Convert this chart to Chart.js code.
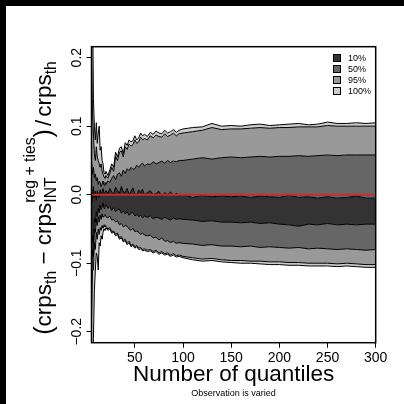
<!DOCTYPE html>
<html>
<head>
<meta charset="utf-8">
<script src="https://cdn.jsdelivr.net/npm/chart.js@4"></script>
<style>
  html, body { margin: 0; padding: 0; background: #000; width: 404px; height: 404px; overflow: hidden; }
  #wrap { position: absolute; left: 6px; top: 6px; width: 398px; height: 398px; background: #fff; }
</style>
</head>
<body>
<div id="wrap"><canvas id="fan" width="398" height="398"></canvas></div>
<script>
// number of quantiles (x)
const quantiles = [5,6,7,8,9,10,11,12,13,14,15,16,17,18,19,20,
  22,24,26,28,30,32,34,36,38,40,42,44,46,48,50,52,54,56,58,60,
  63,66,69,72,75,78,81,84,87,90,93,96,
  100,110,120,130,140,150,160,170,180,190,200,210,220,230,240,250,260,270,280,290,300];

// band edges, top to bottom
const upper100 = [0.45,0.30,0.14,0.10,0.08,0.105,0.075,0.09,0.10,0.065,0.07,0.05,0.045,0.032,0.03,0.034,
  0.028,0.036,0.045,0.04,0.062,0.055,0.068,0.07,0.06,0.076,0.072,0.08,0.077,0.079,0.086,0.08,0.083,0.09,0.086,0.088,
  0.085,0.091,0.088,0.093,0.09,0.089,0.094,0.09,0.092,0.095,0.091,0.094,
  0.096,0.098,0.099,0.104,0.1,0.101,0.1,0.102,0.103,0.101,0.102,0.103,0.104,0.102,0.103,0.106,0.104,0.104,0.105,0.104,0.105];
const upper95 = [0.20,0.12,0.09,0.06,0.05,0.07,0.055,0.05,0.045,0.04,0.045,0.035,0.03,0.026,0.024,0.028,
  0.024,0.031,0.04,0.034,0.056,0.05,0.062,0.064,0.055,0.07,0.066,0.074,0.071,0.073,0.08,0.075,0.077,0.084,0.08,0.082,
  0.08,0.086,0.083,0.087,0.085,0.084,0.089,0.085,0.087,0.09,0.086,0.089,
  0.09,0.092,0.094,0.098,0.095,0.096,0.096,0.097,0.098,0.097,0.098,0.098,0.099,0.099,0.099,0.101,0.1,0.1,0.1,0.1,0.1];
const upper50 = [0.05,0.03,0.04,0.025,0.03,0.02,0.025,0.015,0.02,0.018,0.012,0.016,0.02,0.014,0.018,0.015,
  0.02,0.018,0.024,0.028,0.022,0.03,0.032,0.027,0.036,0.031,0.038,0.035,0.04,0.037,0.038,0.043,0.04,0.044,0.046,0.042,
  0.045,0.044,0.048,0.045,0.047,0.049,0.046,0.05,0.047,0.049,0.048,0.05,
  0.05,0.052,0.054,0.052,0.054,0.055,0.054,0.055,0.056,0.055,0.056,0.056,0.057,0.056,0.057,0.058,0.057,0.058,0.058,0.058,0.058];
const upper10 = [0.01,-0.01,0.012,-0.004,0.005,-0.008,0.006,0.002,-0.004,0.007,0.0,0.004,0.009,0.001,0.003,0.006,
  0.002,0.009,0.004,0.001,0.011,0.006,0.002,0.012,0.004,0.003,0.009,0.001,0.005,0.01,0.002,0.0,0.007,0.003,0.008,0.0,
  0.003,0.006,0.0,0.002,0.005,-0.002,0.003,0.0,0.004,-0.001,0.002,-0.001,
  0.0,-0.004,-0.001,-0.003,-0.002,-0.003,-0.002,-0.004,-0.002,-0.003,-0.004,-0.001,-0.004,-0.003,-0.005,-0.003,-0.005,-0.004,-0.002,-0.005,-0.005];
const lower10 = [-0.10,-0.06,-0.07,-0.035,-0.04,-0.025,-0.032,-0.02,-0.026,-0.015,-0.022,-0.018,-0.012,-0.02,-0.017,-0.015,
  -0.02,-0.017,-0.023,-0.019,-0.025,-0.022,-0.021,-0.027,-0.024,-0.028,-0.025,-0.03,-0.027,-0.026,-0.031,-0.029,-0.032,-0.03,-0.034,-0.031,
  -0.033,-0.031,-0.035,-0.033,-0.034,-0.036,-0.033,-0.035,-0.037,-0.034,-0.036,-0.035,
  -0.036,-0.037,-0.039,-0.038,-0.04,-0.04,-0.041,-0.04,-0.042,-0.041,-0.043,-0.044,-0.046,-0.043,-0.044,-0.042,-0.044,-0.043,-0.044,-0.043,-0.043];
const lower50 = [-0.13,-0.08,-0.09,-0.05,-0.055,-0.035,-0.045,-0.032,-0.04,-0.03,-0.036,-0.028,-0.033,-0.031,-0.029,-0.032,
  -0.034,-0.031,-0.037,-0.036,-0.04,-0.038,-0.044,-0.042,-0.047,-0.045,-0.046,-0.05,-0.052,-0.049,-0.054,-0.053,-0.055,-0.058,-0.056,-0.059,
  -0.06,-0.059,-0.063,-0.062,-0.066,-0.063,-0.068,-0.067,-0.07,-0.068,-0.071,-0.07,
  -0.071,-0.072,-0.074,-0.073,-0.075,-0.075,-0.076,-0.075,-0.077,-0.076,-0.077,-0.078,-0.077,-0.079,-0.078,-0.079,-0.08,-0.079,-0.08,-0.081,-0.08];
const lower95 = [-0.18,-0.11,-0.11,-0.07,-0.08,-0.055,-0.065,-0.05,-0.058,-0.048,-0.052,-0.045,-0.049,-0.044,-0.047,-0.046,
  -0.05,-0.048,-0.054,-0.053,-0.058,-0.056,-0.063,-0.061,-0.067,-0.065,-0.071,-0.068,-0.074,-0.072,-0.076,-0.074,-0.078,-0.077,-0.08,-0.079,
  -0.081,-0.08,-0.083,-0.081,-0.085,-0.083,-0.086,-0.085,-0.088,-0.086,-0.089,-0.088,
  -0.09,-0.092,-0.094,-0.093,-0.095,-0.096,-0.096,-0.097,-0.097,-0.098,-0.098,-0.099,-0.099,-0.1,-0.1,-0.1,-0.101,-0.1,-0.101,-0.102,-0.102];
const lower100 = [-0.45,-0.32,-0.21,-0.14,-0.11,-0.085,-0.09,-0.11,-0.07,-0.075,-0.06,-0.065,-0.055,-0.05,-0.052,-0.048,
  -0.052,-0.05,-0.056,-0.055,-0.06,-0.058,-0.065,-0.063,-0.069,-0.067,-0.073,-0.07,-0.076,-0.074,-0.078,-0.076,-0.08,-0.079,-0.082,-0.081,
  -0.083,-0.082,-0.085,-0.083,-0.087,-0.085,-0.088,-0.087,-0.09,-0.088,-0.091,-0.09,
  -0.092,-0.095,-0.097,-0.096,-0.098,-0.099,-0.1,-0.1,-0.101,-0.102,-0.102,-0.103,-0.103,-0.104,-0.104,-0.104,-0.105,-0.104,-0.105,-0.106,-0.106];

const bandLabels = ['10%', '50%', '95%', '100%'];
const bandColors = ['#333333', '#666666', '#999999', '#cccccc'];
const xTicks = [50, 100, 150, 200, 250, 300];
const yTicks = [-0.2, -0.1, 0, 0.1, 0.2];
const yTickLabels = ['\u22120.2', '\u22120.1', '0.0', '0.1', '0.2'];

const FAM = "'Liberation Sans', Arial, Helvetica, sans-serif";
Chart.defaults.font.family = FAM;
Chart.defaults.color = '#000';

const pts = arr => quantiles.map((q, i) => ({ x: q, y: arr[i] }));

// each edge fills down to the next one
const edges = [upper100, upper95, upper50, upper10, lower10, lower50, lower95, lower100];
const edgeFill = [bandColors[3], bandColors[2], bandColors[1], bandColors[0], bandColors[1], bandColors[2], bandColors[3], null];

const datasets = edges.map((arr, i) => ({
  data: pts(arr),
  borderColor: '#000',
  borderWidth: 1,
  pointRadius: 0,
  tension: 0,
  backgroundColor: edgeFill[i] || 'transparent',
  fill: edgeFill[i] ? '+1' : false
}));
datasets.push({
  data: [{ x: quantiles[0], y: 0 }, { x: quantiles[quantiles.length - 1], y: 0 }],
  borderColor: '#cd2b2b',
  borderWidth: 2,
  pointRadius: 0,
  fill: false,
  order: -1
});

function drawYTitle(ctx, cx, cy) {
  const M = 22.5, S = 15.75, B = 25;
  const parts = [
    { t: '(', s: B, dy: 1 },
    { t: 'crps', s: M, dy: 0 },
    { t: 'th', s: S, dy: 5 },
    { t: ' \u2212 ', s: M, dy: 0 },
    { t: 'crps', s: M, dy: 0 },
    { stack: [{ t: 'reg + ties', s: S, dy: -16 }, { t: 'INT', s: S, dy: 5 }] },
    { t: ')', s: B, dy: 1 },
    { t: '/', s: M, dy: 0, gap: 3 },
    { t: 'crps', s: M, dy: 0 },
    { t: 'th', s: S, dy: 5 }
  ];
  const w = p => { ctx.font = p.s + 'px ' + FAM; return ctx.measureText(p.t).width; };
  let total = 0;
  parts.forEach(p => {
    p.w = p.stack ? Math.max(...p.stack.map(w)) : w(p) + 2 * (p.gap || 0);
    total += p.w;
  });
  ctx.save();
  ctx.translate(cx, cy);
  ctx.rotate(-Math.PI / 2);
  ctx.fillStyle = '#000';
  ctx.textBaseline = 'alphabetic';
  ctx.textAlign = 'left';
  let x = -total / 2;
  parts.forEach(p => {
    const items = p.stack || [p];
    items.forEach(it => {
      ctx.font = it.s + 'px ' + FAM;
      ctx.fillText(it.t, x + (p.gap || 0), it.dy);
    });
    x += p.w;
  });
  ctx.restore();
}

const decorations = {
  id: 'decorations',
  afterDatasetsDraw(chart) {
    const { ctx, chartArea: a } = chart;
    ctx.save();
    ctx.strokeStyle = '#000';
    ctx.lineWidth = 1.5;
    ctx.strokeRect(a.left, a.top, a.right - a.left, a.bottom - a.top);
    ctx.restore();
  },
  afterDraw(chart) {
    const { ctx, chartArea: a } = chart;
    const mid = (a.left + a.right) / 2;
    ctx.save();
    ctx.fillStyle = '#000';
    ctx.textAlign = 'center';
    ctx.textBaseline = 'alphabetic';
    ctx.font = '22.5px ' + FAM;
    ctx.fillText('Number of quantiles', mid, 375);
    ctx.font = '9px ' + FAM;
    ctx.fillText('Observation is varied', mid, 390);

    // legend
    ctx.textAlign = 'left';
    ctx.textBaseline = 'middle';
    ctx.font = '9px ' + FAM;
    ctx.lineWidth = 1;
    bandLabels.forEach((lab, i) => {
      const y = 52 + i * 11;
      ctx.fillStyle = bandColors[i];
      ctx.fillRect(327.5, y - 3.5, 7, 7);
      ctx.strokeStyle = '#000';
      ctx.strokeRect(327.5, y - 3.5, 7, 7);
      ctx.fillStyle = '#000';
      ctx.fillText(lab, 342, y + 0.5);
    });
    ctx.restore();

    drawYTitle(ctx, 45, 192);
  }
};

new Chart(document.getElementById('fan'), {
  type: 'line',
  data: { datasets: datasets },
  options: {
    responsive: false,
    animation: false,
    devicePixelRatio: 1,
    layout: { padding: { left: 40.5, top: 40.7, right: 28.3, bottom: 31.3 } },
    plugins: {
      legend: { display: false },
      tooltip: { enabled: false },
      filler: { drawTime: 'beforeDatasetsDraw' }
    },
    scales: {
      x: {
        type: 'linear',
        min: 5,
        max: 300,
        grid: { drawOnChartArea: false, tickLength: 5, tickColor: '#000', tickWidth: 1 },
        border: { display: false },
        afterBuildTicks: s => { s.ticks = xTicks.map(v => ({ value: v })); },
        afterFit: s => { s.height = 30; },
        ticks: { font: { size: 14 }, color: '#000', padding: 2, maxRotation: 0, autoSkip: false }
      },
      y: {
        type: 'linear',
        min: -0.216,
        max: 0.216,
        grid: { drawOnChartArea: false, tickLength: 5, tickColor: '#000', tickWidth: 1 },
        border: { display: false },
        afterBuildTicks: s => { s.ticks = yTicks.map(v => ({ value: v })); },
        afterFit: s => { s.width = 45; },
        ticks: {
          font: { size: 14 }, color: '#000', padding: -4,
          minRotation: 90, maxRotation: 90, crossAlign: 'center', autoSkip: false,
          callback: (v, i) => yTickLabels[i]
        }
      }
    }
  },
  plugins: [decorations]
});
</script>
</body>
</html>
